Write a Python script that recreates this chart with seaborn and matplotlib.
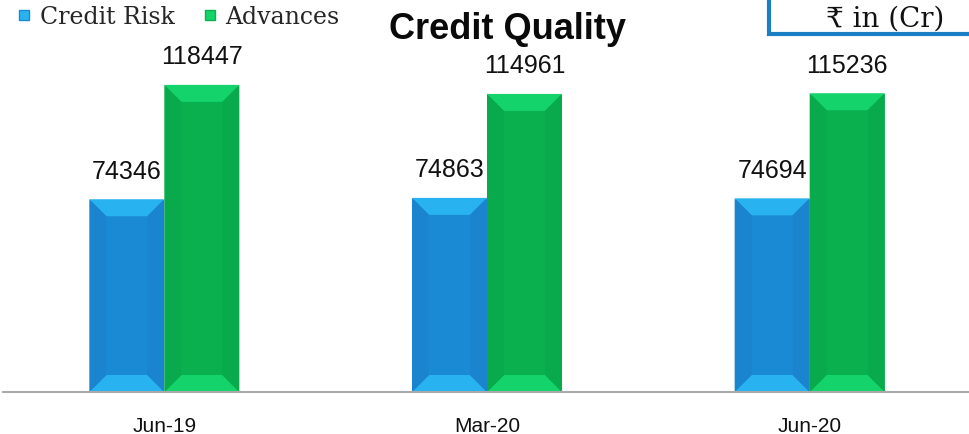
import matplotlib
matplotlib.use("Agg")
import matplotlib.pyplot as plt
import seaborn as sns
import pandas as pd
import numpy as np
from matplotlib.lines import Line2D
from matplotlib.patches import Rectangle, Polygon

categories = ["Jun-19", "Mar-20", "Jun-20"]
credit_risk = [74346, 74863, 74694]
advances = [118447, 114961, 115236]
series_names = ["Credit Risk", "Advances"]

colors = {"Credit Risk": "#1a8ad4", "Advances": "#0ab04e"}
light = {"Credit Risk": "#28b2f0", "Advances": "#14d36b"}
side = {"Credit Risk": "#1b84cf", "Advances": "#09aa4b"}

df = pd.DataFrame({
    "Period": categories * 2,
    "Series": [series_names[0]] * 3 + [series_names[1]] * 3,
    "Value": credit_risk + advances,
})

sns.set_style("white")
fig = plt.figure(figsize=(9.7, 4.35), dpi=100)
ax = fig.add_axes([3 / 970, 42 / 435, 968 / 970, 363 / 435])
sns.barplot(data=df, x="Period", y="Value", hue="Series", palette=colors,
            width=0.465, ax=ax, legend=False, saturation=1, errorbar=None)
ax.set_ylim(0, 140000)
ax.set_xlim(-0.5, 2.5)
for s in ["top", "right", "left"]:
    ax.spines[s].set_visible(False)
ax.spines["bottom"].set_color("#aaaaaa")
ax.spines["bottom"].set_linewidth(1.5)
ax.set_yticks([])
ax.set_xlabel("")
ax.set_ylabel("")
ax.tick_params(axis="x", length=0, pad=17, labelsize=15, labelcolor="#111111")
for lab in ax.get_xticklabels():
    lab.set_family("Liberation Sans")

# bevel shading derived from each bar's geometry
fig.canvas.draw()
inv = ax.transData.inverted()
for cont, name in zip(ax.containers, series_names):
    for bar in cont:
        (x0, y0), (x1, y1) = ax.transData.transform(
            [(bar.get_x(), 0), (bar.get_x() + bar.get_width(), bar.get_height())])
        d = 17
        polys = {
            "top": [(x0, y1), (x1, y1), (x1 - d, y1 - d), (x0 + d, y1 - d)],
            "bottom": [(x0, y0), (x1, y0), (x1 - d, y0 + d), (x0 + d, y0 + d)],
            "left": [(x0, y0), (x0 + d, y0 + d), (x0 + d, y1 - d), (x0, y1)],
            "right": [(x1, y0), (x1 - d, y0 + d), (x1 - d, y1 - d), (x1, y1)],
        }
        for key, pts in polys.items():
            c = light[name] if key in ("top", "bottom") else side[name]
            ax.add_patch(Polygon(inv.transform(np.array(pts)), closed=True,
                                 facecolor=c, edgecolor="none", zorder=bar.get_zorder() + 0.1))

for cont in ax.containers:
    ax.bar_label(cont, fmt="%d", padding=12, fontsize=18, family="Liberation Sans",
                 color="#111111")

fig.text(0.523, 1 - 39 / 435, "Credit Quality", ha="center", va="baseline",
         fontsize=26, fontweight="bold", family="Liberation Sans", color="#0a0a0a")

handles = [Line2D([], [], marker="s", linestyle="none", markersize=7,
                  markerfacecolor=light[n], markeredgecolor=colors[n]) for n in series_names]
fig.legend(handles, series_names, loc="center left", bbox_to_anchor=(0.013, 1 - 18 / 435),
           ncol=2, frameon=False, handletextpad=0.15, columnspacing=1.0,
           handlelength=1.0, borderaxespad=0, borderpad=0,
           prop={"family": ["DejaVu Serif"], "size": 17})

box = Rectangle((769 / 970, 1 - 35 / 435), 0.3, 0.2, transform=fig.transFigure,
                facecolor="white", edgecolor="#1a7fc4", linewidth=3, clip_on=False)
fig.patches.append(box)
fig.text(0.913, 1 - 27 / 435, "₹ in (Cr)", ha="center", va="baseline", fontsize=20,
         family=["DejaVu Serif", "DejaVu Sans"], color="#111111")

fig.savefig("out.png", dpi=100)
